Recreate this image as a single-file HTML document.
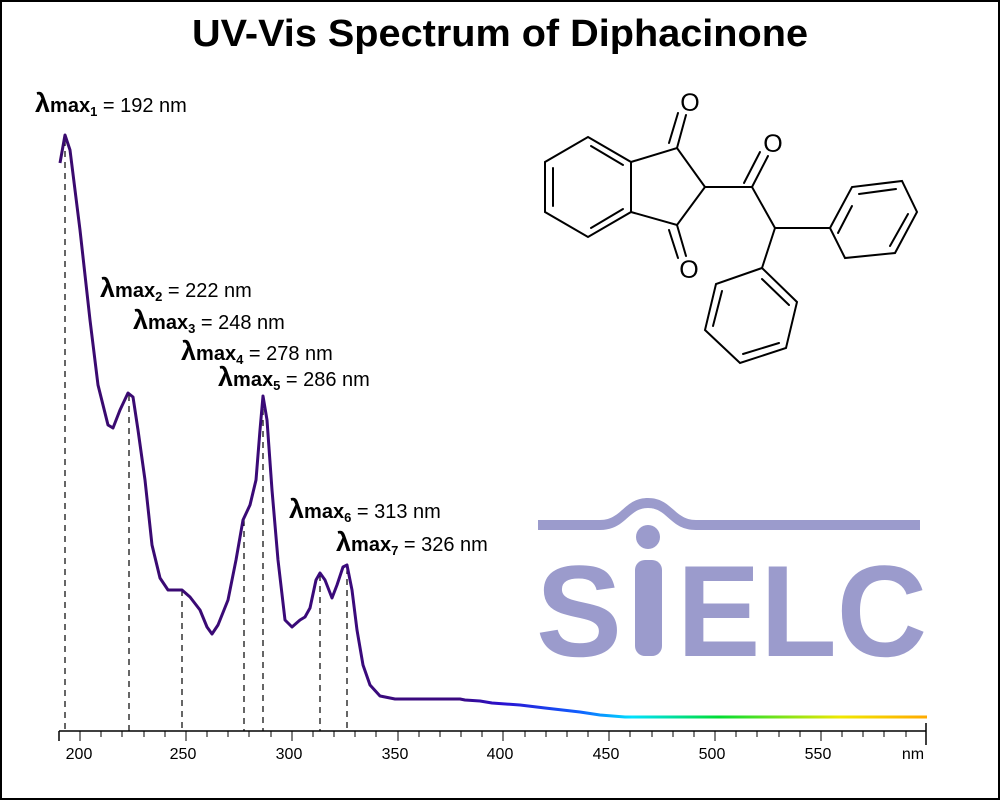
<!DOCTYPE html>
<html><head><meta charset="utf-8"><style>
html,body{margin:0;padding:0;background:#fff;}
.wrap{width:1000px;height:800px;position:relative;overflow:hidden;}
</style></head><body><div class="wrap">
<svg width="1000" height="800" viewBox="0 0 1000 800" xmlns="http://www.w3.org/2000/svg" font-family="Liberation Sans, Arial, sans-serif">
<rect x="1" y="1" width="998" height="798" fill="#fff" stroke="#000" stroke-width="2"/>
<text x="500" y="46" text-anchor="middle" font-size="38" font-weight="bold" textLength="616" lengthAdjust="spacingAndGlyphs">UV-Vis Spectrum of Diphacinone</text>

<!-- SIELC logo -->
<g fill="#9b9bcc" stroke="none">
<path d="M538,520 L600,520 C622,520 624,498 648,498 C672,498 674,520 696,520 L920,520 L920,530 L696,530 C670,530 668,508 648,508 C628,508 626,530 600,530 L538,530 Z"/>
<circle cx="648" cy="537" r="12"/>
<rect x="635" y="560" width="27" height="96" rx="10"/>
<text x="536" y="656" font-size="130" font-weight="bold" textLength="86" lengthAdjust="spacingAndGlyphs">S</text>
<text x="677" y="656" font-size="130" font-weight="bold" textLength="250" lengthAdjust="spacingAndGlyphs">ELC</text>
</g>

<!-- axis -->
<g stroke="#000" stroke-width="1.5">
<line x1="59" y1="731" x2="926" y2="731"/>
<line x1="59" y1="731" x2="59" y2="741"/>
<line x1="926" y1="723" x2="926" y2="745"/>
</g>
<g stroke="#000" stroke-width="1">
<path d="M80,731v10M101,731v6M122,731v6M144,731v6M165,731v6M186,731v10M207,731v6M228,731v6M249,731v6M271,731v6M292,731v10M313,731v6M334,731v6M355,731v6M376,731v6M398,731v10M419,731v6M440,731v6M461,731v6M482,731v6M503,731v10M525,731v6M546,731v6M567,731v6M588,731v6M609,731v10M630,731v6M652,731v6M673,731v6M694,731v6M715,731v10M736,731v6M757,731v6M779,731v6M800,731v6M821,731v10M842,731v6M863,731v6M884,731v6M906,731v6"/>
</g>
<g font-size="16" text-anchor="middle">
<text x="79" y="759">200</text><text x="183" y="759">250</text><text x="289" y="759">300</text>
<text x="395" y="759">350</text><text x="500" y="759">400</text><text x="606" y="759">450</text>
<text x="712" y="759">500</text><text x="818" y="759">550</text><text x="913" y="759">nm</text>
</g>

<!-- dashed lines -->
<g stroke="#000" stroke-width="1.2" stroke-dasharray="6,5">
<line x1="65" y1="140" x2="65" y2="731"/>
<line x1="129" y1="395" x2="129" y2="731"/>
<line x1="182" y1="590" x2="182" y2="731"/>
<line x1="244" y1="520" x2="244" y2="731"/>
<line x1="263" y1="398" x2="263" y2="731"/>
<line x1="320" y1="575" x2="320" y2="731"/>
<line x1="347" y1="568" x2="347" y2="731"/>
</g>

<defs><linearGradient id="g" gradientUnits="userSpaceOnUse" x1="59" y1="0" x2="927" y2="0">
<stop offset="0" stop-color="#3a0a6e"/>
<stop offset="0.46" stop-color="#3a0a80"/>
<stop offset="0.51" stop-color="#2a10d0"/>
<stop offset="0.6" stop-color="#1060ff"/>
<stop offset="0.66" stop-color="#00e0ff"/>
<stop offset="0.76" stop-color="#00dd33"/>
<stop offset="0.9" stop-color="#f0e800"/>
<stop offset="1" stop-color="#ffaa00"/>
</linearGradient></defs>
<polyline fill="none" stroke="url(#g)" stroke-width="3" stroke-linejoin="round" points="60,163 65,135 70,150 80,230 90,320 98,385 108,425 113,428 120,410 128,393 133,397 138,430 145,480 152,545 160,578 168,590 182,590 190,597 200,610 207,627 212,634 218,625 228,600 236,560 243,520 250,505 256,480 260,430 263,396 267,420 272,490 278,560 285,620 292,627 300,620 305,617 310,608 316,580 320,573 325,580 332,598 337,585 343,567 347,565 352,590 357,630 363,665 370,685 380,696 395,699 460,699 465,700 480,701 492,703 520,705 545,708 580,712 600,715 625,717 927,717"/>

<!-- labels -->
<g font-size="20">
<text x="35" y="112"><tspan font-size="27" font-weight="bold">λ</tspan><tspan font-weight="bold">max</tspan><tspan font-weight="bold" font-size="13" dy="4">1</tspan><tspan dy="-4"> = 192 nm</tspan></text>
<text x="100" y="297"><tspan font-size="27" font-weight="bold">λ</tspan><tspan font-weight="bold">max</tspan><tspan font-weight="bold" font-size="13" dy="4">2</tspan><tspan dy="-4"> = 222 nm</tspan></text>
<text x="133" y="329"><tspan font-size="27" font-weight="bold">λ</tspan><tspan font-weight="bold">max</tspan><tspan font-weight="bold" font-size="13" dy="4">3</tspan><tspan dy="-4"> = 248 nm</tspan></text>
<text x="181" y="360"><tspan font-size="27" font-weight="bold">λ</tspan><tspan font-weight="bold">max</tspan><tspan font-weight="bold" font-size="13" dy="4">4</tspan><tspan dy="-4"> = 278 nm</tspan></text>
<text x="218" y="386"><tspan font-size="27" font-weight="bold">λ</tspan><tspan font-weight="bold">max</tspan><tspan font-weight="bold" font-size="13" dy="4">5</tspan><tspan dy="-4"> = 286 nm</tspan></text>
<text x="289" y="518"><tspan font-size="27" font-weight="bold">λ</tspan><tspan font-weight="bold">max</tspan><tspan font-weight="bold" font-size="13" dy="4">6</tspan><tspan dy="-4"> = 313 nm</tspan></text>
<text x="336" y="551"><tspan font-size="27" font-weight="bold">λ</tspan><tspan font-weight="bold">max</tspan><tspan font-weight="bold" font-size="13" dy="4">7</tspan><tspan dy="-4"> = 326 nm</tspan></text>
</g>

<!-- molecule -->
<g stroke="#000" stroke-width="2" fill="none" stroke-linecap="round">
<polygon points="588,137 631,162 631,212 588,237 545,212 545,162"/>
<line x1="553" y1="168" x2="553" y2="206"/>
<line x1="591" y1="146" x2="623" y2="165"/>
<line x1="591" y1="228" x2="623" y2="209"/>
<polyline points="631,162 677,148 705,187 677,225 631,212"/>
<line x1="677" y1="148" x2="686" y2="115"/>
<line x1="669" y1="143" x2="678" y2="113"/>
<line x1="677" y1="225" x2="686" y2="256"/>
<line x1="669" y1="230" x2="678" y2="258"/>
<line x1="705" y1="187" x2="752" y2="187"/>
<line x1="752" y1="187" x2="768" y2="156"/>
<line x1="744" y1="183" x2="760" y2="152"/>
<line x1="752" y1="187" x2="775" y2="228"/>
<line x1="775" y1="228" x2="830" y2="228"/>
<polygon points="830,228 852,187 902,181 917,212 895,253 845,258"/>
<line x1="859" y1="194" x2="896" y2="189"/>
<line x1="908" y1="214" x2="890" y2="246"/>
<line x1="838" y1="233" x2="852" y2="206"/>
<line x1="775" y1="228" x2="762" y2="268"/>
<polygon points="762,268 716,284 705,330 740,363 786,348 797,302"/>
<line x1="722" y1="291" x2="713" y2="326"/>
<line x1="743" y1="354" x2="779" y2="343"/>
<line x1="789" y1="305" x2="762" y2="279"/>
</g>
<g font-size="25" text-anchor="middle">
<text x="690" y="111">O</text>
<text x="689" y="278">O</text>
<text x="773" y="152">O</text>
</g>
</svg>
</div></body></html>
